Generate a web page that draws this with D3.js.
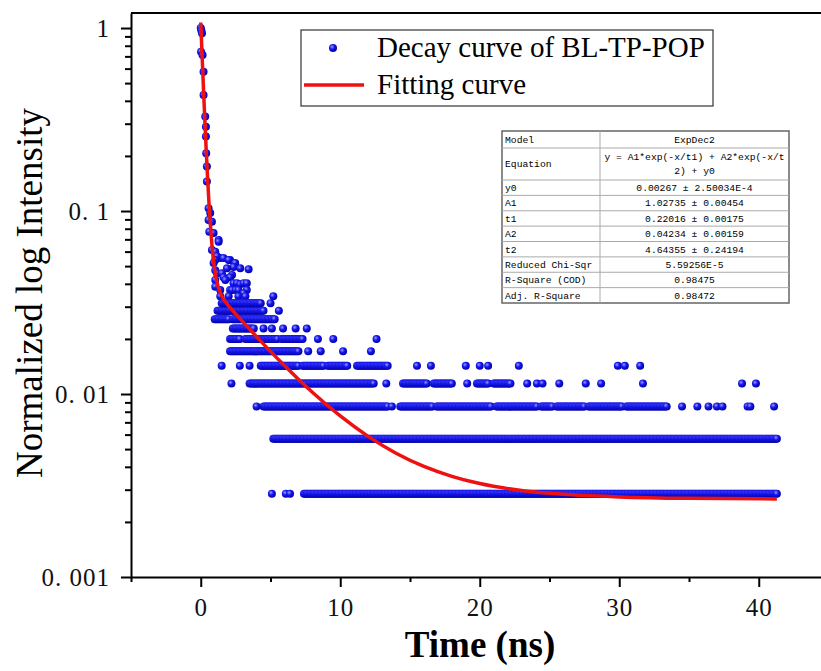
<!DOCTYPE html>
<html>
<head>
<meta charset="utf-8">
<script src="https://cdn.jsdelivr.net/npm/d3@7"></script>
<style>
  body { margin: 0; background: #fff; }
  svg { display: block; }
</style>
</head>
<body>
<div id="chart"></div>
<script>
// axis ticks
const xTicks = [0, 10, 20, 30, 40];
const xMinorTicks = [-5, 5, 15, 25, 35, 45];
const yTicks = [0.001, 0.01, 0.1, 1];
const yTickLabels = ["0. 001", "0. 01", "0. 1", "1"];

// fast part of the decay (ns, normalized intensity), read point by point
const earlyTime = [0, 0.04, 0.09, 0.02, 0.13, 0.2, 0.2, 0.32, 0.37, 0.37, 0.39, 0.44, 0.44,
    0.56, 0.68, 0.56, 0.8, 0.61, 0.92, 1.28, 1.28, 0.8, 1.04, 1.4, 1.16, 1.63, 2.1, 2.0, 1.04,
    0.92, 2.47, 2.35, 1.88, 2.83, 3.43, 1.04, 1.16, 1.52, 2.24, 1.63, 2.1, 1.04, 1.76,
    2.35, 2.6, 2.83, 3.07, 3.3, 1.04, 1.4, 2.1, 2.24, 2.5, 2.7, 3.3, 3.07,
    1.4, 2.0, 2.7, 3.2, 5.2];
const earlyIntensity = [1.0, 0.97, 0.935, 0.742, 0.712, 0.577, 0.43, 0.328, 0.289, 0.255, 0.207, 0.175, 0.145,
    0.1035, 0.0975, 0.0893, 0.0874, 0.0771, 0.0758, 0.0694, 0.0679, 0.0612, 0.0599, 0.0553, 0.0566, 0.0553, 0.054, 0.054, 0.054,
    0.052, 0.052, 0.0494, 0.0486, 0.0486, 0.048, 0.0475, 0.0457, 0.0457, 0.0447, 0.0434, 0.0434, 0.042, 0.042,
    0.0403, 0.0403, 0.0398, 0.0403, 0.0403, 0.0386, 0.037, 0.037, 0.037, 0.037, 0.037, 0.037, 0.0355,
    0.0342, 0.0342, 0.0342, 0.0342, 0.0342];

// tail: counts fall on discrete levels (1 count = 0.00285)
const levelIntensity = [0.00285, 0.0057, 0.00855, 0.0114, 0.01425, 0.0171, 0.01995, 0.0228, 0.02565, 0.0285, 0.03135];
// stretches (ns) where a level is filled channel after channel
const levelRuns = [
    [[7.4, 41.3]],
    [[5.2, 41.3]],
    [[4.5, 13.4], [14.3, 16.6], [16.9, 20.8], [21.2, 24.1], [24.4, 25.2], [25.5, 27.5], [27.8, 30.2], [30.5, 33.4]],
    [[3.5, 12.4], [14.5, 16.2], [16.7, 18.0], [19.8, 20.6], [21.0, 22.2]],
    [[4.3, 7.0], [7.3, 8.8], [9.1, 10.5], [11.2, 13.4]],
    [[2.1, 7.0]],
    [[2.1, 2.8], [3.2, 5.5], [5.8, 7.3]],
    [[2.3, 3.8]],
    [[1.0, 2.0], [2.3, 5.3]],
    [[1.2, 4.5]],
    [[1.5, 4.3]]
];
// isolated points on each level (ns)
const levelDots = [
    [5.1, 6.1, 6.4],
    [],
    [4.0, 13.7, 34.5, 35.6, 36.4, 37.0, 37.4, 39.2, 39.4, 41.1],
    [2.2, 13.3, 19.1, 23.4, 24.1, 24.5, 25.7, 27.6, 28.7, 31.7, 38.8, 39.8],
    [1.5, 2.8, 3.5, 15.5, 16.5, 19.0, 20.0, 20.6, 22.8, 29.9, 30.4, 31.5],
    [7.7, 8.6, 10.2, 12.2],
    [8.4, 9.5, 12.6],
    [4.5, 5.1, 5.9, 6.8, 7.6],
    [],
    [5.6],
    [5.0]
];
const channelWidth = 0.1; // ns

// red fitting curve
const fitTime = [0, 0.05, 0.1, 0.15, 0.2, 0.3, 0.4, 0.5, 0.6, 0.75, 1.0, 1.25, 1.5, 2, 2.5, 3, 4, 5, 6, 7, 8, 10, 12, 14, 16, 18, 20, 23, 26, 30, 35, 41.3];
const fitIntensity = [1.072, 0.863, 0.697, 0.564, 0.457, 0.305, 0.2085, 0.1467, 0.1072, 0.0728, 0.0477, 0.0385, 0.03445, 0.0303, 0.0274, 0.0249,
    0.0206, 0.0171, 0.0143, 0.01205, 0.01023, 0.00759, 0.00587, 0.00475, 0.00402, 0.00355, 0.00324, 0.00297, 0.00283, 0.00274, 0.00269, 0.00267];

// fit report table
const tableNames = ["y0", "A1", "t1", "A2", "t2", "Reduced Chi-Sqr", "R-Square (COD)", "Adj. R-Square"];
const tableValues = ["0.00267 \u00B1 2.50034E-4", "1.02735 \u00B1 0.00454", "0.22016 \u00B1 0.00175",
    "0.04234 \u00B1 0.00159", "4.64355 \u00B1 0.24194", "5.59256E-5", "0.98475", "0.98472"];
const equationLines = ["y = A1*exp(-x/t1) + A2*exp(-x/t", "2) + y0"];

const W = 821, H = 671;
const plotLeft = 131, plotTop = 13, plotBottom = 577;

const svg = d3.select("#chart").append("svg")
    .attr("width", W).attr("height", H);

const defs = svg.append("defs");
const grad = defs.append("radialGradient").attr("id", "ball")
    .attr("cx", "38%").attr("cy", "35%").attr("r", "65%");
grad.append("stop").attr("offset", "0%").attr("stop-color", "#9a9aff");
grad.append("stop").attr("offset", "45%").attr("stop-color", "#1818f0");
grad.append("stop").attr("offset", "100%").attr("stop-color", "#0000a8");

const x = d3.scaleLinear().domain([-5, 45]).range([plotLeft, plotLeft + 50 * 13.95]);
const y = d3.scaleLog().domain([0.001, 1.208]).range([plotBottom, plotTop]);

// points
let points = earlyTime.map((t, i) => ({t: t, v: earlyIntensity[i]}));
levelIntensity.forEach((v, k) => {
    levelRuns[k].forEach(r => {
        for (let t = r[0]; t <= r[1] + 1e-9; t += channelWidth) points.push({t: t, v: v});
    });
    levelDots[k].forEach(t => points.push({t: t, v: v}));
});

svg.append("g").selectAll("circle")
    .data(points)
    .enter().append("circle")
    .attr("cx", d => x(d.t))
    .attr("cy", d => y(d.v))
    .attr("r", 4)
    .attr("fill", "url(#ball)");

// fit
const fitLine = d3.line()
    .x((d, i) => x(fitTime[i]))
    .y(d => y(d))
    .curve(d3.curveMonotoneX);
svg.append("path")
    .datum(fitIntensity)
    .attr("d", fitLine)
    .attr("fill", "none")
    .attr("stroke", "#ee1111")
    .attr("stroke-width", 3.5);

// axes
svg.append("g")
    .attr("transform", `translate(0, ${plotBottom})`)
    .call(d3.axisBottom(x).tickValues(xTicks).tickSize(10).tickPadding(11).tickSizeOuter(0).tickFormat(d3.format("d")));
svg.append("g")
    .attr("transform", `translate(0, ${plotBottom})`)
    .call(d3.axisBottom(x).tickValues(xMinorTicks).tickSize(5).tickSizeOuter(0).tickFormat(""))
    .select(".domain").remove();

const yMinor = y.ticks().filter(v => yTicks.indexOf(v) < 0 && v < 1.2);
svg.append("g")
    .attr("transform", `translate(${plotLeft}, 0)`)
    .call(d3.axisLeft(y).tickValues(yTicks).tickSize(10).tickPadding(11).tickSizeOuter(0)
        .tickFormat((d, i) => yTickLabels[i]));
svg.append("g")
    .attr("transform", `translate(${plotLeft}, 0)`)
    .call(d3.axisLeft(y).tickValues(yMinor).tickSize(6).tickSizeOuter(0).tickFormat(""))
    .select(".domain").remove();

svg.selectAll(".domain, .tick line").attr("stroke", "#000").attr("stroke-width", 2);
svg.selectAll(".tick text")
    .style("font-family", "'Liberation Serif', serif")
    .style("font-size", "25px")
    .style("letter-spacing", "1px")
    .attr("fill", "#111");

// frame top
svg.append("line")
    .attr("x1", plotLeft).attr("x2", W).attr("y1", plotTop).attr("y2", plotTop)
    .attr("stroke", "#000").attr("stroke-width", 2);

// titles
svg.append("text")
    .attr("transform", "translate(42, 293) rotate(-90)")
    .attr("text-anchor", "middle")
    .style("font-family", "'Liberation Serif', serif")
    .style("font-size", "37px")
    .text("Normalized log Intensity");
svg.append("text")
    .attr("x", 480).attr("y", 657)
    .attr("text-anchor", "middle")
    .style("font-family", "'Liberation Serif', serif")
    .style("font-weight", "bold")
    .style("font-size", "37px")
    .text("Time (ns)");

// legend
const lg = svg.append("g");
lg.append("rect").attr("x", 301).attr("y", 30).attr("width", 412).attr("height", 76)
    .attr("fill", "#fff").attr("stroke", "#333").attr("stroke-width", 1.2);
lg.append("circle").attr("cx", 333).attr("cy", 48).attr("r", 4).attr("fill", "url(#ball)");
lg.append("line").attr("x1", 304).attr("x2", 364).attr("y1", 85).attr("y2", 85)
    .attr("stroke", "#ee1111").attr("stroke-width", 3.5);
lg.selectAll("text")
    .data(["Decay curve of BL-TP-POP", "Fitting curve"])
    .enter().append("text")
    .attr("x", 377)
    .attr("y", (d, i) => 57 + i * 37)
    .style("font-family", "'Liberation Serif', serif")
    .style("font-size", "29px")
    .text(d => d);

// fit table
const tb = svg.append("g")
    .style("font-family", "'Liberation Mono', monospace")
    .style("font-size", "9.7px");
const tx0 = 502, tx1 = 600, tx2 = 789;
const rowY = [131, 148, 180];
for (let i = 1; i <= tableNames.length; i++) rowY.push(180 + i * 15.375);

tb.append("rect").attr("x", tx0).attr("y", rowY[0]).attr("width", tx2 - tx0).attr("height", rowY[rowY.length - 1] - rowY[0])
    .attr("fill", "#fff").attr("stroke", "#666").attr("stroke-width", 1.5);
tb.selectAll("line.h")
    .data(rowY.slice(1, -1))
    .enter().append("line")
    .attr("x1", tx0).attr("x2", tx2).attr("y1", d => d).attr("y2", d => d)
    .attr("stroke", "#aaa").attr("stroke-width", 1);
tb.append("line").attr("x1", tx1).attr("x2", tx1).attr("y1", rowY[0]).attr("y2", rowY[rowY.length - 1])
    .attr("stroke", "#aaa").attr("stroke-width", 1);

const names = ["Model", "Equation"].concat(tableNames);
const vals = ["ExpDec2", null].concat(tableValues);
names.forEach((n, i) => {
    const cy = (rowY[i] + rowY[i + 1]) / 2;
    tb.append("text").attr("x", tx0 + 3).attr("y", cy).attr("dy", "0.35em").text(n);
    if (vals[i] !== null) {
        tb.append("text").attr("x", (tx1 + tx2) / 2).attr("y", cy).attr("dy", "0.35em")
            .attr("text-anchor", "middle").text(vals[i]);
    }
});
equationLines.forEach((s, j) => {
    tb.append("text").attr("x", (tx1 + tx2) / 2).attr("y", 157 + j * 14).attr("dy", "0.35em")
        .attr("text-anchor", "middle").text(s);
});
</script>
</body>
</html>
